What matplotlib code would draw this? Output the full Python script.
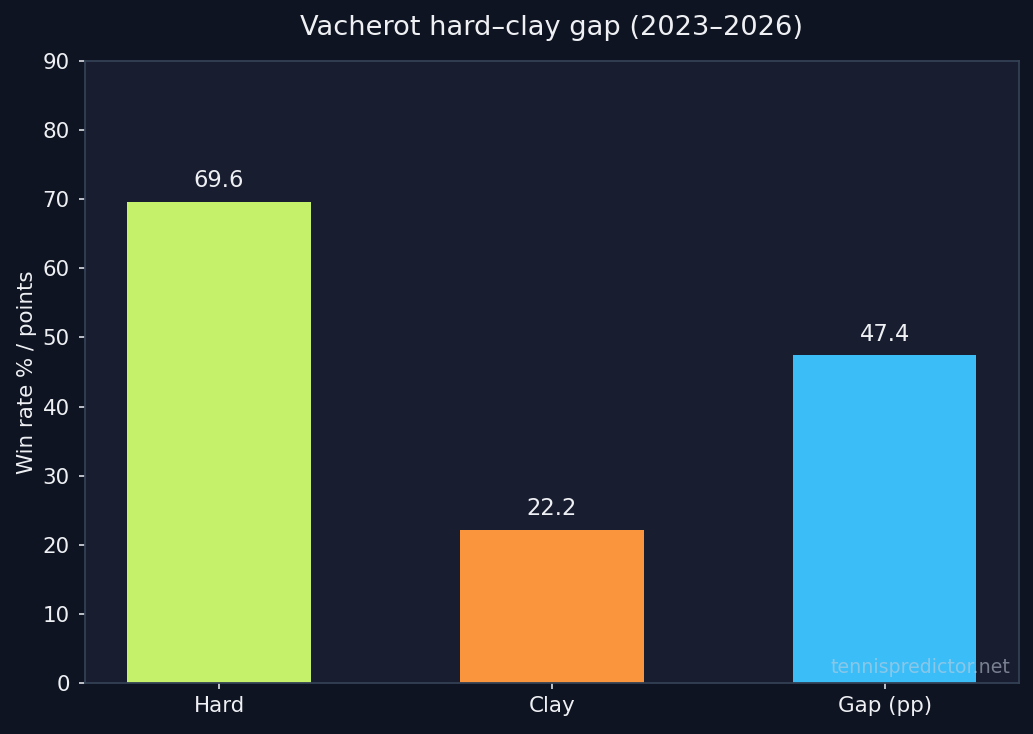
import matplotlib
matplotlib.use("Agg")
import matplotlib.pyplot as plt

plt.rcParams["font.family"] = ["DejaVu Sans"]

categories = ["Hard", "Clay", "Gap (pp)"]
values = [69.6, 22.2, 47.4]
bar_colors = ["#c4f06a", "#fb953d", "#3bbdf8"]

fig_bg = "#0e1421"
ax_bg = "#181e30"
text_col = "#eef0f4"
spine_col = "#334155"

fig = plt.figure(figsize=(10.33, 7.34), dpi=100, facecolor=fig_bg)
ax = fig.add_axes([0.0823, 0.0695, 0.9041, 0.8474], facecolor=ax_bg)

bars = ax.bar(categories, values, width=0.55, color=bar_colors)
for b, v in zip(bars, values):
    ax.annotate(f"{v:.1f}", (b.get_x() + b.get_width() / 2, v),
                xytext=(0, 7), textcoords="offset points",
                ha="center", va="bottom", fontsize=16.3, color=text_col)

ax.set_ylim(0, 90)
ax.set_yticks(range(0, 91, 10))
ax.set_ylabel("Win rate % / points", fontsize=15.4, color=text_col, labelpad=4)
ax.set_title("Vacherot hard\u2013clay gap (2023\u20132026)", fontsize=19.6,
             color=text_col, pad=19)
ax.tick_params(colors=text_col, labelsize=15.4, length=4.5, width=1.1)
ax.tick_params(axis="y", pad=6.5)
ax.tick_params(axis="x", pad=5)
for s in ax.spines.values():
    s.set_color(spine_col)
    s.set_linewidth(1.3)

ax.text(0.991, 0.01, "tennispredictor.net", transform=ax.transAxes,
        ha="right", va="bottom", fontsize=13.7, color="#c8d0dc", alpha=0.55)

fig.savefig("out.png", dpi=100, facecolor=fig_bg)
